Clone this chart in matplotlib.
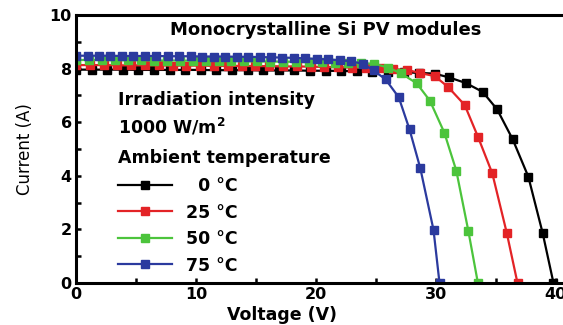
import matplotlib
matplotlib.use("Agg")
import matplotlib.pyplot as plt
from matplotlib.ticker import MultipleLocator

# I-V curves
v_0c = [0, 1.3, 2.6, 3.9, 5.2, 6.5, 7.8, 9.1, 10.4, 11.7, 13.0, 14.3, 15.6, 16.9,
        18.2, 19.5, 20.8, 22.1, 23.4, 24.7, 26.0, 27.3, 28.6, 29.9,
        31.1, 32.5, 33.9, 35.1, 36.4, 37.7, 38.9, 39.8]
i_0c = [7.96, 7.96, 7.96, 7.96, 7.95, 7.95, 7.95, 7.95, 7.95, 7.94, 7.94, 7.94,
        7.93, 7.93, 7.93, 7.92, 7.92, 7.91, 7.90, 7.89, 7.88, 7.86, 7.84, 7.81,
        7.67, 7.46, 7.13, 6.48, 5.36, 3.97, 1.86, 0.0]

v_25c = [0, 1.15, 2.3, 3.45, 4.6, 5.75, 6.9, 8.05, 9.2, 10.35, 11.5, 12.65, 13.8,
         14.95, 16.1, 17.25, 18.4, 19.55, 20.7, 21.85, 23.0, 24.15, 25.3, 26.45, 27.6,
         28.7, 29.9, 31.0, 32.4, 33.5, 34.7, 35.9, 36.8]
i_25c = [8.13, 8.13, 8.13, 8.12, 8.12, 8.12, 8.12, 8.11, 8.11, 8.11, 8.10, 8.10,
         8.10, 8.09, 8.09, 8.08, 8.08, 8.07, 8.06, 8.05, 8.04, 8.03, 8.01, 7.98, 7.95,
         7.83, 7.72, 7.32, 6.64, 5.46, 4.09, 1.88, 0.0]

v_50c = [0, 1.08, 2.16, 3.24, 4.32, 5.4, 6.48, 7.56, 8.64, 9.72, 10.8, 11.88, 12.96,
         14.04, 15.12, 16.2, 17.28, 18.36, 19.44, 20.52, 21.6, 22.68, 23.76, 24.84,
         26.0, 27.1, 28.4, 29.5, 30.7, 31.7, 32.7, 33.5]
i_50c = [8.32, 8.32, 8.32, 8.31, 8.31, 8.31, 8.30, 8.30, 8.30, 8.29, 8.29, 8.28,
         8.28, 8.27, 8.27, 8.26, 8.26, 8.25, 8.24, 8.23, 8.22, 8.21, 8.20, 8.18,
         8.04, 7.82, 7.45, 6.8, 5.61, 4.19, 1.95, 0.0]

v_75c = [0, 0.96, 1.91, 2.87, 3.82, 4.78, 5.74, 6.69, 7.65, 8.6, 9.56, 10.52, 11.47,
         12.43, 13.38, 14.34, 15.3, 16.25, 17.21, 18.16, 19.12, 20.08, 21.03, 21.99,
         22.94, 23.9, 24.8, 25.8, 26.9, 27.8, 28.7, 29.8, 30.3]
i_75c = [8.48, 8.48, 8.48, 8.48, 8.47, 8.47, 8.47, 8.47, 8.46, 8.46, 8.46, 8.45,
         8.45, 8.45, 8.44, 8.44, 8.43, 8.42, 8.41, 8.40, 8.38, 8.36, 8.34, 8.31,
         8.27, 8.18, 7.93, 7.6, 6.93, 5.73, 4.28, 1.98, 0.0]

labels = ["\u20070 \u00b0C", "25 \u00b0C", "50 \u00b0C", "75 \u00b0C"]
colors = ["black", "#e32326", "#4cc43c", "#2b3a9e"]

plt.rcParams["font.family"] = ["DejaVu Sans"]

fig = plt.figure(figsize=(5.63, 3.25), dpi=100)
ax = fig.add_axes([0.135, 0.129, 0.895, 0.825])

series = [(v_0c, i_0c), (v_25c, i_25c), (v_50c, i_50c), (v_75c, i_75c)]
for (v, i), c, lab in zip(series, colors, labels):
    ax.plot(v, i, color=c, lw=1.6, marker="s", ms=5.5, mec=c, mfc=c, label=lab)

ax.set_xlim(0, 42)
ax.set_ylim(0, 10)
ax.xaxis.set_major_locator(MultipleLocator(10))
ax.xaxis.set_minor_locator(MultipleLocator(5))
ax.yaxis.set_major_locator(MultipleLocator(2))
ax.yaxis.set_minor_locator(MultipleLocator(1))
ax.tick_params(which="both", direction="in", width=1.8, length=3.5,
               labelsize=11.5, pad=3)
for lbl in ax.get_xticklabels() + ax.get_yticklabels():
    lbl.set_fontweight("bold")
for sp in ax.spines.values():
    sp.set_linewidth(2.2)

ax.set_xlabel("Voltage (V)", fontsize=12.5, fontweight="bold", labelpad=-1)
ax.xaxis.set_label_coords(0.409, -0.085)
ax.set_ylabel("Current (A)", fontsize=12, labelpad=11)

fs = 12.5
ax.text(0.496, 0.944, "Monocrystalline Si PV modules", transform=ax.transAxes,
        ha="center", va="center", fontsize=13, fontweight="bold")
ax.text(0.083, 0.683, "Irradiation intensity", transform=ax.transAxes,
        ha="left", va="center", fontsize=fs, fontweight="bold")
ax.text(0.083, 0.582, "1000 W/m$^\\mathbf{2}$", transform=ax.transAxes,
        ha="left", va="center", fontsize=fs, fontweight="bold")
ax.text(0.083, 0.466, "Ambient temperature", transform=ax.transAxes,
        ha="left", va="center", fontsize=fs, fontweight="bold")

leg = ax.legend(loc="upper left", bbox_to_anchor=(0.083, 0.3955), frameon=False,
                prop={"size": fs, "weight": "bold"}, handlelength=3.1,
                labelspacing=0.49, handletextpad=0.85, borderaxespad=0,
                borderpad=0)

fig.savefig("out.png", dpi=100)
